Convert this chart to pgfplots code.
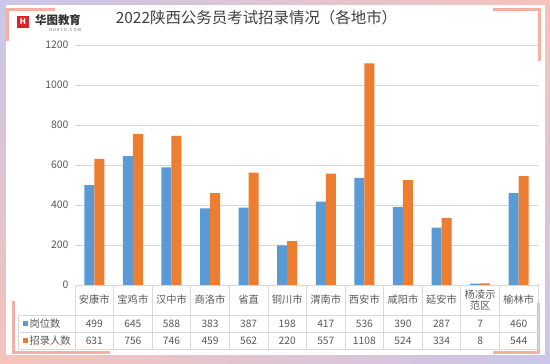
\documentclass[border=0pt]{standalone}
\usepackage{pgfplots}
\pgfplotsset{compat=1.18}
\usetikzlibrary{shadings}
\usepackage{fontspec}
\setmainfont{Noto Sans CJK SC}
\definecolor{barblue}{HTML}{5B9BD5}
\definecolor{barorange}{HTML}{ED7D31}
\definecolor{txt}{HTML}{595959}
\definecolor{titlec}{HTML}{404040}
\definecolor{gridc}{HTML}{D9D9D9}
\definecolor{lav}{HTML}{C9C6EA}
\definecolor{pinkb}{HTML}{F6C3BA}
\definecolor{pinkl}{HTML}{F3B0A3}
\definecolor{logored}{HTML}{D7262B}
\begin{document}
\begin{tikzpicture}[x=1bp,y=1bp]
\useasboundingbox (0,0) rectangle (550,363);
\shade[upper left=lav, upper right=pinkb, lower left=pinkb, lower right=lav] (0,0) rectangle (550,363);
\fill[white] (6,8) rectangle (545,358);
% corner brackets
\fill[pinkl] (6,352) rectangle (55,355);
\fill[pinkl] (6,322) rectangle (9,355);
\fill[pinkl] (493,352) rectangle (541,355);
\fill[pinkl] (538,302) rectangle (541,355);
\fill[pinkl] (12,9) rectangle (15,62);
\fill[pinkl] (12,9) rectangle (110,12);
\fill[pinkl] (537,9) rectangle (540,60);
\fill[pinkl] (493,9) rectangle (540,12);
% logo
\fill[logored] (17,335) rectangle (29,347);
\node[text=white,font=\fontsize{8}{8}\selectfont\bfseries,inner sep=0] at (23,341.2) {H};
\node[text=black!80,font=\fontsize{11.5}{12}\selectfont\bfseries,inner sep=0] at (58,343) {华图教育};
\node[text=black!60,font=\fontsize{4.2}{5}\selectfont,inner sep=0] at (65,333.5) {H U A T U . C O M};
% title
\node[text=titlec,font=\fontsize{15.5}{17}\selectfont,inner sep=0] at (256.5,345.5) {2022陕西公务员考试招录情况（各地市）};
\begin{axis}[
  at={(75bp,78bp)}, anchor=south west,
  scale only axis, width=463bp, height=240bp,
  xmin=-0.5, xmax=11.5, ymin=0, ymax=1200,
  ybar=0pt, bar width=10bp,
  axis line style={draw=none},
  xtick=\empty,
  ytick={0,200,...,1200},
  ymajorgrids, grid style={draw=gridc, line width=0.7bp},
  major tick length=0pt,
  /pgf/number format/assume math mode=true,
  /pgf/number format/1000 sep={},
  yticklabel style={font=\fontsize{10.5}{12}\selectfont, text=txt, xshift=-3bp},
]
\addplot[fill=barblue, draw=none] coordinates {(0,499) (1,645) (2,588) (3,383) (4,387) (5,198) (6,417) (7,536) (8,390) (9,287) (10,7) (11,460)};
\addplot[fill=barorange, draw=none] coordinates {(0,631) (1,756) (2,746) (3,459) (4,562) (5,220) (6,557) (7,1108) (8,524) (9,334) (10,8) (11,544)};
\end{axis}
% data table
\begin{scope}[gridc, line width=0.7bp]
\draw (75,78) -- (538,78);
\draw (18,48) -- (538,48);
\draw (18,31) -- (538,31);
\draw (18,14) -- (538,14);
\draw (18,48) -- (18,14);
\foreach \k in {0,...,12} { \draw ({75+38.583*\k},78) -- ({75+38.583*\k},14); }
\end{scope}
\begin{scope}[font=\fontsize{10.3}{11.5}\selectfont, text=txt, inner sep=0]
\foreach \c [count=\i from 0] in {安康市,宝鸡市,汉中市,商洛市,省直,铜川市,渭南市,西安市,咸阳市,延安市,{杨凌示\\范区},榆林市}
  { \node[align=center] at ({75+38.583*(\i+0.5)},63) {\c}; }
\foreach \v [count=\i from 0] in {499,645,588,383,387,198,417,536,390,287,7,460}
  { \node at ({75+38.583*(\i+0.5)},39.5) {\v}; }
\foreach \v [count=\i from 0] in {631,756,746,459,562,220,557,1108,524,334,8,544}
  { \node at ({75+38.583*(\i+0.5)},22.5) {\v}; }
\fill[barblue] (22.5,37.5) rectangle (27.5,42.5);
\fill[barorange] (22.5,20.5) rectangle (27.5,25.5);
\node[anchor=west] at (29.5,39.5) {岗位数};
\node[anchor=west] at (29.5,22.5) {招录人数};
\end{scope}
\end{tikzpicture}
\end{document}
